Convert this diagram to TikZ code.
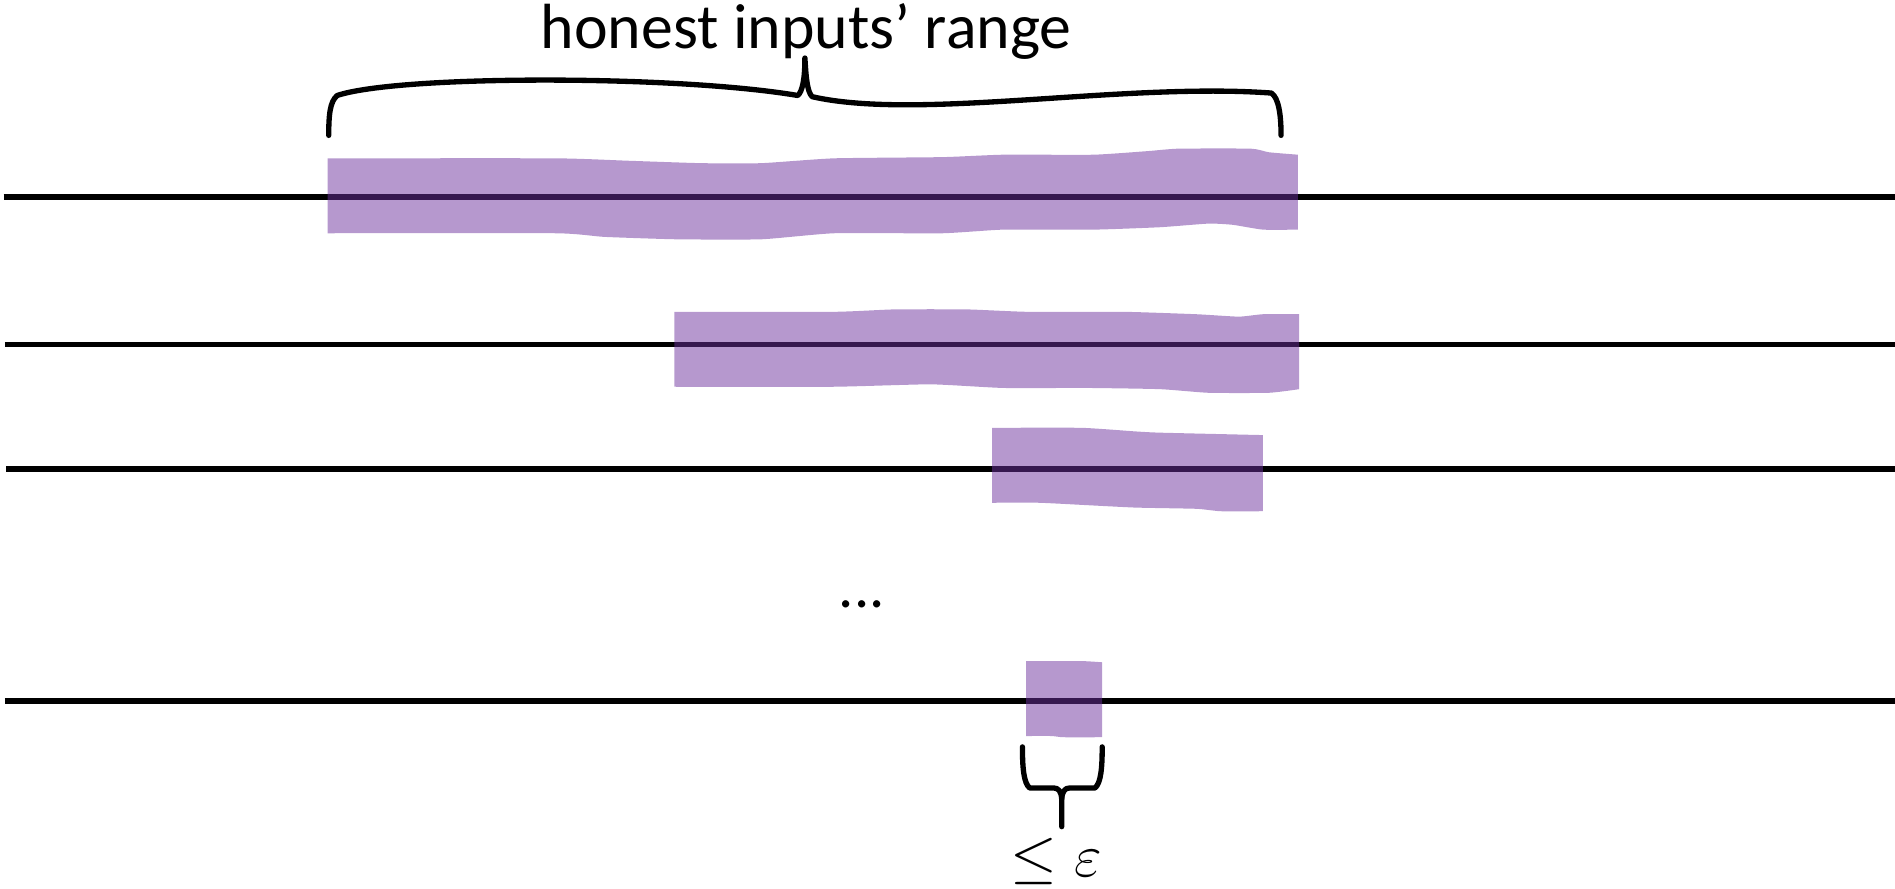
\documentclass[tikz,border=0pt]{standalone}
\usepackage{fontspec}
\setmainfont{Carlito}
\definecolor{bandpurple}{RGB}{109,49,158}
\begin{document}
\begin{tikzpicture}[x=0.5pt,y=-0.5pt,
  axis/.style={line width=2.3pt, black},
  band/.style={fill=bandpurple, fill opacity=0.5},
  bracestroke/.style={line width=2.2pt, line join=round, line cap=round},
  edge/.style={smooth, tension=0.3}]
\useasboundingbox (0,0) rectangle (1568,735);

% horizontal axes
\coordinate (a1l) at (3,163);   \coordinate (a1r) at (1568,163);
\coordinate (a2l) at (4,285);   \coordinate (a2r) at (1568,285);
\coordinate (a3l) at (5,388);   \coordinate (a3r) at (1568,388);
\coordinate (a4l) at (4,580);   \coordinate (a4r) at (1568,580);
\draw[axis] (a1l) -- (a1r);
\draw[axis] (a2l) -- (a2r);
\draw[axis] (a3l) -- (a3r);
\draw[axis] (a4l) -- (a4r);

% ranges on each axis
\fill[band] (271,131)
  -- plot[edge] coordinates {(271,131) (460,131) (520,133) (580,135) (630,135) (690,131) (780,130) (830,128) (905,128) (950,125) (975,123) (1035,123) (1050,126) (1074,128)}
  -- (1074,190)
  -- plot[edge] coordinates {(1074,190) (1045,190) (1020,186) (1000,185) (960,188) (905,190) (830,190) (780,193) (690,193) (630,198) (560,198) (500,196) (460,193) (271,193)}
  -- cycle;
\fill[band] (558,258)
  -- plot[edge] coordinates {(558,258) (690,258) (740,256) (800,256) (850,258) (930,258) (990,260) (1025,262) (1045,260) (1075,260)}
  -- (1075,322)
  -- plot[edge] coordinates {(1075,322) (1050,325) (1000,325) (960,322) (900,321) (830,321) (770,318) (690,320) (558,320)}
  -- cycle;
\fill[band] (821,354)
  -- plot[edge] coordinates {(821,354) (895,354) (940,357) (960,358) (1045,360)}
  -- (1045,423)
  -- plot[edge] coordinates {(1045,423) (1010,423) (990,421) (940,420) (900,418) (860,416) (821,416)}
  -- cycle;
\fill[band] (849,547)
  -- plot[edge] coordinates {(849,547) (895,547) (912,548)}
  -- (912,610)
  -- plot[edge] coordinates {(912,610) (880,610) (870,609) (849,609)}
  -- cycle;

% top brace
\draw[bracestroke] (272,112) .. controls (272,95) and (273,84) .. (279,79)
  .. controls (330,62) and (560,62) .. (660,79)
  .. controls (664,76) and (666,65) .. (666,48)
  .. controls (667,65) and (668,76) .. (672,80)
  .. controls (760,100) and (930,68) .. (1052,77)
  .. controls (1058,81) and (1060,95) .. (1060,112);
\node[font=\fontsize{26.4}{30}\selectfont, anchor=base] (rangelabel) at (667,40) {honest inputs’ range};

% ellipsis between axes
\node[font=\fontsize{25}{28}\selectfont, anchor=base] (dots) at (713,503) {...};

% bottom brace
\draw[bracestroke] (846,618) .. controls (846,635) and (847,648) .. (852,652)
  -- (872,652) .. controls (876,652) and (878,655) .. (878.5,661) -- (878.5,684);
\draw[bracestroke] (912,618) .. controls (912,635) and (911,648) .. (906,652)
  -- (885,652) .. controls (881,652) and (879,655) .. (878.5,661);
\node[font=\fontsize{27}{30}\selectfont, anchor=base] (epslabel) at (874,725) {$\leq \varepsilon$};
\end{tikzpicture}
\end{document}
